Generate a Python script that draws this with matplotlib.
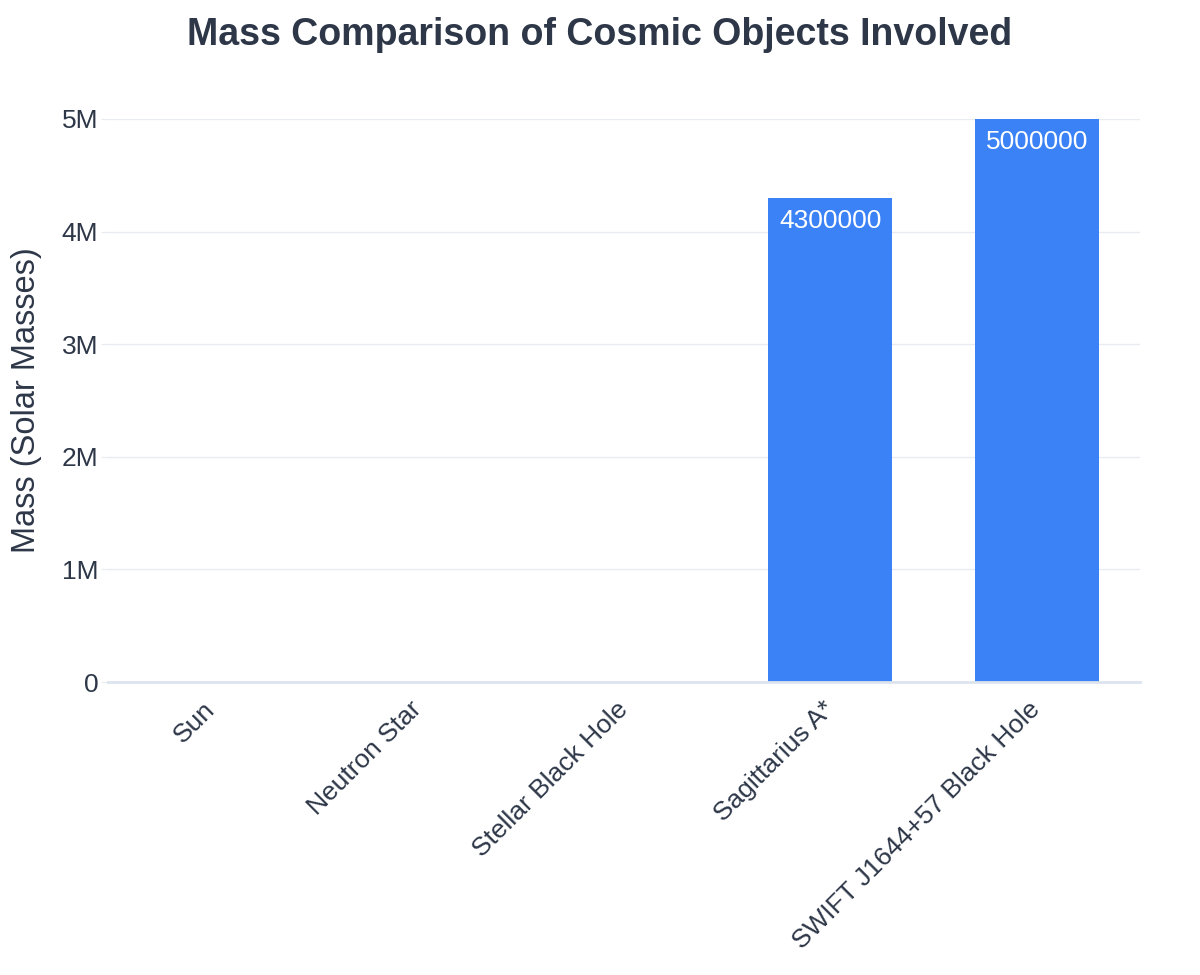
#! /usr/bin/env python3
#
# Bar chart: mass comparison of cosmic objects (solar masses)

import matplotlib

matplotlib.use("Agg")
import matplotlib.pyplot as plt
from matplotlib.ticker import FuncFormatter

plt.rcParams["font.family"] = ["Liberation Sans", "DejaVu Sans"]

objects = ["Sun", "Neutron Star", "Stellar Black Hole", "Sagittarius A*", "SWIFT J1644+57 Black Hole"]
masses = [1, 1.4, 10, 4300000, 5000000]
y_ticks = [0, 1000000, 2000000, 3000000, 4000000, 5000000]

TEXT = "#2d3748"
GRID = "#e8ecf1"
BAR = "#3b82f6"


def _fmt(v, _pos):
    return "0" if v == 0 else f"{v / 1e6:g}M"


fig = plt.figure(figsize=(12, 9.75), dpi=100)
ax = fig.add_axes([0.09, 0.3005, 0.86, 0.5775])

x = range(len(objects))
bars = ax.bar(x, masses, width=0.6, color=BAR, zorder=3)

# labels inside the bar top, only where they fit (as plotly does)
for rect, val in zip(bars, masses):
    if val > 500000:
        ax.annotate(
            f"{val:.0f}",
            (rect.get_x() + rect.get_width() / 2, rect.get_height()),
            xytext=(0, -8),
            textcoords="offset points",
            ha="center",
            va="top",
            color="white",
            fontsize=19,
            zorder=4,
        )

ax.set_xlim(-0.5, len(objects) - 0.5)
ax.set_ylim(0, 5000000)
ax.set_yticks(y_ticks)
ax.yaxis.set_major_formatter(FuncFormatter(_fmt))
ax.set_xticks(list(x))
ax.set_xticklabels(objects, rotation=45, ha="right", va="center", rotation_mode="anchor")

ax.grid(axis="y", color=GRID, linewidth=1, zorder=0)
for side in ["top", "right", "left"]:
    ax.spines[side].set_visible(False)
ax.spines["bottom"].set_color("#dde4ee")
ax.spines["bottom"].set_linewidth(2)
ax.spines["bottom"].set_zorder(5)

ax.tick_params(axis="y", length=5, color=GRID, labelsize=19, labelcolor=TEXT, pad=2)
ax.tick_params(axis="x", length=0, labelsize=19, labelcolor=TEXT, pad=17)

ax.set_ylabel("Mass (Solar Masses)", fontsize=23.5, color=TEXT, labelpad=14)
fig.suptitle(
    "Mass Comparison of Cosmic Objects Involved",
    x=0.5,
    y=0.964,
    va="center",
    fontsize=27,
    fontweight="bold",
    color=TEXT,
)

fig.savefig("out.png", dpi=100)
